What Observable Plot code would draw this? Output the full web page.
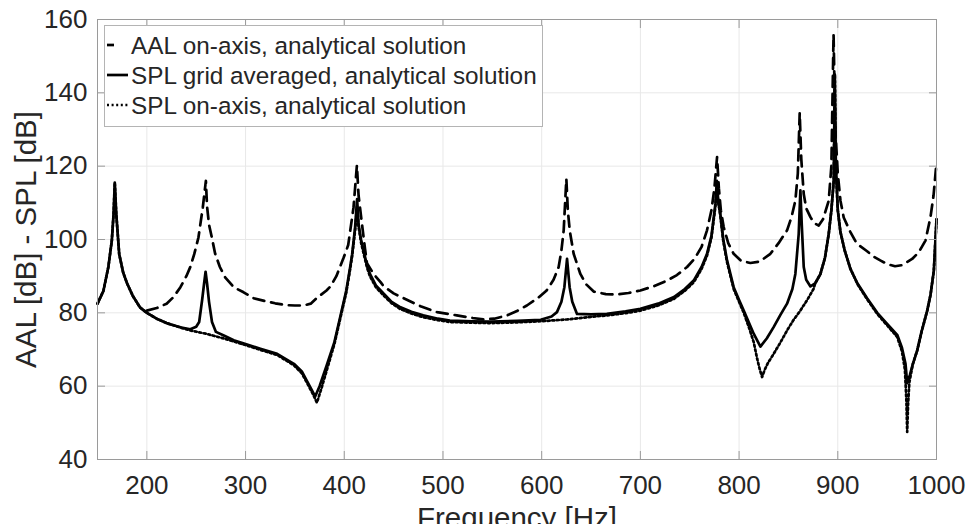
<!DOCTYPE html>
<html><head><meta charset="utf-8">
<script src="https://cdn.jsdelivr.net/npm/d3@7"></script>
<script src="https://cdn.jsdelivr.net/npm/@observablehq/plot@0.6"></script>
<style>
html,body{margin:0;padding:0;background:#fff;}
#wrap{position:relative;width:969px;height:524px;overflow:hidden;}
#wrap svg{display:block;}
#legend{position:absolute;left:104px;top:25px;}
</style></head><body><div id="wrap"></div>
<script>
// ---- data (frequency [Hz], level [dB]) ----
const xTicks = [200, 300, 400, 500, 600, 700, 800, 900, 1000];
const yTicks = [40, 60, 80, 100, 120, 140, 160];
const seriesNames = ["AAL on-axis, analytical solution", "SPL grid averaged, analytical solution", "SPL on-axis, analytical solution"];

const aalOnAxis = [[200,80.6],[210,81.3],[220,82.5],[227,84.3],[234,87],[240,90],[244,92.5],[248,96],[252.3,100.6],[256.7,108.8],[259.8,116],[261,109],[263,104],[265.8,100.6],[269.2,96.1],[274,92.5],[279.3,89.7],[288,87],[298,85.6],[308,84],[320,83.2],[330,82.6],[341,82.1],[350,82],[359,82],[366,82.5],[372,84],[382,86.1],[386,87.2],[392,90],[399.3,95],[404,98.5],[409.4,108.8],[412.8,120.2],[414.5,112],[417.9,104.3],[421,97.5],[423,93.5],[430,90.5],[437,88.3],[440,87.2],[450,85.3],[460,84],[478,81.7],[494,80.2],[514,79.3],[530,78.6],[541,78.2],[552,78.4],[565,79.3],[575,80.5],[585,82],[596,84],[605,86.1],[612,89],[617.2,92.5],[620,97],[622.3,102.5],[625,116.5],[626.5,108],[628.4,102.5],[632.4,96.1],[639.2,90.6],[645,87.8],[652.7,85.8],[665,85.1],[676,85],[688,85.4],[700,86.1],[714,87.3],[727,88.8],[737,90.3],[747.3,92.5],[755,94.8],[762,98],[767.5,102.5],[772,108],[775,114],[777.7,122.5],[779.5,114],[781.5,108],[784.4,103.4],[789,99],[794.5,96.1],[802,94.2],[811.4,93.6],[821,94],[831.7,96.1],[840,99],[848.6,102.5],[853,106],[857,110.6],[859.5,118],[861.4,134.5],[863,122],[865.5,112.4],[868,108.5],[872.3,106.1],[876,104.5],[880.7,103.8],[885,105.5],[890.8,110.6],[893.5,120],[895.7,156],[897.5,130],[900,118],[902.7,110.6],[906,106],[912.8,102],[918,99.5],[922,98.3],[929.7,96.8],[936,95.4],[943,94.3],[950,93.3],[958,92.7],[965,93],[975.3,94.7],[982,96.5],[988.8,99.7],[993.9,106.1],[997,112],[1000,121]];

const splGridAveraged = [[150,82.5],[156,86],[161,92.5],[164.5,99.7],[166.3,107],[167.5,115.5],[169,107],[172,96],[176,91],[180,88],[186,84.5],[193,81.5],[200,80],[210,78.4],[220,77.2],[227,76.6],[235,76],[244,75.5],[250,76.2],[253,77.5],[256,83.5],[258,88],[259.5,91.2],[261,88],[263,83],[266,77.5],[270,74.8],[278,73.8],[288,72.5],[300,71.5],[315,70.2],[332,68.8],[349,66.1],[357,64],[362,61.5],[367,59],[370.5,57.2],[375,60],[382,65.5],[390,72],[396,79],[402,86],[406,92.5],[408,96],[411,103.4],[413,111],[414.5,104],[417,100],[419.5,97],[423,93],[426,90.6],[432,87.5],[440,85.2],[448,83],[457,81.5],[468,80.3],[480,79.3],[495,78.4],[507,77.9],[530,77.7],[548,77.6],[575,77.8],[599,78.1],[610,79],[615.5,80.2],[620,83],[623,87],[625.7,94.7],[628.3,87],[631,83],[635.8,79.7],[650,79.6],[666,79.7],[685,80.4],[700,81.1],[718,82.5],[734,84.3],[745,86.5],[754,88.8],[762,92.5],[767.5,96.1],[772,101],[776,109.7],[777.5,116],[779,110],[781,107],[784,100],[787.8,94.3],[794.5,87],[800,83.5],[804.7,80.6],[814.8,74.3],[821.6,70.8],[828,73],[835,76.1],[842,79.5],[848.6,82.5],[854,86.5],[857,90.6],[860.4,101.5],[862.1,113.4],[863.5,104],[865.5,92.5],[868,89],[872.3,87.2],[877,88],[882.4,90.6],[887,95],[890.8,101.5],[893.5,108],[895.9,116],[897,145],[898,120],[900,108],[902.7,102],[907,97],[912.8,92],[920,88],[929.7,84],[940,80],[950,77],[960.2,74],[965,70.5],[968.6,66.1],[970.3,60.8],[973,63],[976,66],[980.4,69.7],[985,75],[990.6,80.6],[994,85],[997.3,91.5],[1000,105.5]];

const splOnAxis = [[150,82.5],[156,86],[161,92.5],[164.5,99.7],[166.3,107],[167.5,115.5],[169,107],[172,96],[176,91],[180,88],[186,84.5],[193,81.5],[200,80],[210,78.4],[220,77.2],[227,76.6],[235,75.9],[244,75.2],[260,74.3],[278,73],[300,71.2],[315,69.9],[332,68.5],[349,65.7],[357,63.5],[362,61],[368,58],[372.3,55.5],[377,59.5],[383,65],[390,71.5],[396,78.5],[402,85.5],[406,92],[408,95.5],[411,102.5],[413,109],[414.5,103.5],[417,99.2],[419.5,96.3],[423,92.4],[426,90],[432,87],[440,84.7],[448,82.6],[457,81],[468,79.8],[480,78.8],[495,78],[507,77.5],[530,77.3],[548,77.2],[575,77.4],[599,77.7],[626,78.2],[650,78.9],[666,79.3],[685,79.9],[700,80.6],[718,82],[734,83.8],[745,86],[754,88.3],[762,92],[767.5,95.6],[772,100.5],[776,109],[777.5,114.5],[779,110],[781,106.5],[784,99.5],[787.8,93.8],[794.5,86.5],[800,83],[804.7,80],[810,76],[814.8,72],[818.3,67.5],[821,64.5],[823.3,62.5],[826,64.5],[829,66.2],[835,68.8],[842,72],[848.6,75.2],[855,78],[862,80.6],[869,83.5],[875.6,86.6],[877,88],[882.4,90.6],[887,95],[890.8,101.5],[893.5,108],[895.9,116],[897,145],[898,120],[900,108],[902.7,102],[907,97],[912.8,92],[920,87.8],[929.7,83.7],[940,79.7],[950,76.6],[960.2,73.4],[965,69.5],[968,64.5],[969.5,56],[970.3,47.5],[971.2,55],[972.5,61],[976,66],[980.4,69.7],[985,75],[990.6,80.6],[994,85],[997.3,91.5],[1000,105.5]];

// ---- styling ----
const FONT = "'Liberation Sans', Arial, Helvetica, sans-serif";
const INK = "#262626";
const AXIS = "#9a9a9a";
const dashes = ["11,7", null, "2,2.6"];
const toRows = (arr) => arr.map(([f, v]) => ({f, v}));

const lineMark = (arr, dash) => Plot.line(toRows(arr), {
  x: "f", y: "v", stroke: "black", strokeWidth: 2.7,
  strokeDasharray: dash ?? undefined, strokeLinejoin: "round"
});

const chart = Plot.plot({
  width: 969, height: 524,
  marginLeft: 97, marginRight: 33, marginTop: 19, marginBottom: 65,
  style: {fontFamily: FONT, background: "white", color: INK},
  x: {domain: [150, 1000]},
  y: {domain: [40, 160]},
  marks: [
    Plot.gridX(xTicks, {stroke: "#e8e8e8", strokeOpacity: 1}),
    Plot.gridY(yTicks, {stroke: "#e8e8e8", strokeOpacity: 1}),
    lineMark(aalOnAxis, dashes[0]),
    lineMark(splGridAveraged, dashes[1]),
    lineMark(splOnAxis, dashes[2]),
    Plot.frame({stroke: AXIS}),
    Plot.axisX(xTicks, {anchor: "bottom", tickSize: -8, tickPadding: 24, fontSize: 26, tickFormat: d => String(d), label: null, stroke: AXIS, fill: INK}),
    Plot.axisX(xTicks, {anchor: "top", tickSize: -8, fill: "none", label: null, stroke: AXIS}),
    Plot.axisY(yTicks, {anchor: "left", tickSize: -8, tickPadding: 18, fontSize: 26, tickFormat: d => String(d), label: null, stroke: AXIS, fill: INK}),
    Plot.axisY(yTicks, {anchor: "right", tickSize: -8, fill: "none", label: null, stroke: AXIS}),
    Plot.text(["Frequency [Hz]"], {text: d => d, frameAnchor: "bottom", dy: 59, fontSize: 29.5, textAnchor: "middle", lineAnchor: "middle", fill: INK}),
    Plot.text(["AAL [dB] - SPL [dB]"], {text: d => d, frameAnchor: "left", dx: -71, rotate: -90, fontSize: 29.5, textAnchor: "middle", lineAnchor: "middle", fill: INK})
  ]
});
const wrap = document.getElementById("wrap");
wrap.appendChild(chart);

// ---- legend overlay ----
const ns = "http://www.w3.org/2000/svg";
const lg = document.createElementNS(ns, "svg");
lg.setAttribute("id", "legend");
lg.setAttribute("width", 439); lg.setAttribute("height", 102);
const box = document.createElementNS(ns, "rect");
box.setAttribute("x", 0.5); box.setAttribute("y", 0.5);
box.setAttribute("width", 438); box.setAttribute("height", 101);
box.setAttribute("fill", "white"); box.setAttribute("stroke", "#b4b4b4");
lg.appendChild(box);
const rowY = [20, 50, 80];
seriesNames.forEach((name, i) => {
  const ln = document.createElementNS(ns, "line");
  ln.setAttribute("x1", 3); ln.setAttribute("x2", 24);
  ln.setAttribute("y1", rowY[i]); ln.setAttribute("y2", rowY[i]);
  ln.setAttribute("stroke", "black"); ln.setAttribute("stroke-width", 2.7);
  if (i === 0) ln.setAttribute("stroke-dasharray", "7,30");
  if (i === 2) ln.setAttribute("stroke-dasharray", "2,2.6");
  lg.appendChild(ln);
  const t = document.createElementNS(ns, "text");
  t.setAttribute("x", 27); t.setAttribute("y", rowY[i]);
  t.setAttribute("dy", "0.35em");
  t.setAttribute("font-family", FONT); t.setAttribute("font-size", 24.3);
  t.setAttribute("fill", INK);
  t.textContent = name;
  lg.appendChild(t);
});
wrap.appendChild(lg);
</script></body></html>
